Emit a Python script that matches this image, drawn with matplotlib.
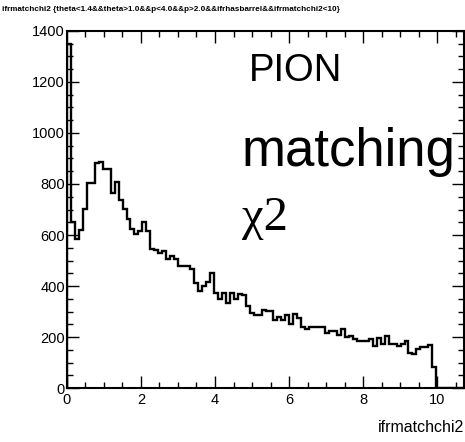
import numpy as np
import matplotlib
matplotlib.use("Agg")
import matplotlib.pyplot as plt
from matplotlib.ticker import MultipleLocator

# histogram contents (100 bins, 0 .. x_max)
counts = [1350, 652, 583, 620, 701, 805, 805, 881, 886, 857,
          857, 763, 806, 737, 701, 664, 622, 604, 617, 652,
          617, 544, 540, 528, 539, 505, 518, 505, 478, 478,
          478, 465, 413, 382, 400, 417, 450, 374, 348, 374,
          335, 372, 348, 367, 365, 322, 295, 286, 286, 308,
          303, 303, 267, 277, 267, 286, 251, 290, 273, 238,
          230, 240, 240, 240, 240, 214, 225, 225, 208, 230,
          201, 205, 191, 186, 183, 183, 191, 165, 195, 173,
          204, 173, 173, 165, 173, 186, 138, 133, 152, 160,
          160, 169, 84, 0, 0, 0, 0, 0, 0, 0]
x_min = 0.0
x_max = 10.73
n_bins = len(counts)

title = "ifrmatchchi2 {theta<1.4&&theta>1.0&&p<4.0&&p>2.0&&ifrhasbarrel&&ifrmatchchi2<10}"
x_title = "ifrmatchchi2"

plt.rcParams['font.family'] = ["Liberation Sans", "DejaVu Sans"]

fig = plt.figure(figsize=(4.65, 4.42), dpi=100)
ax = fig.add_axes([0.144, 0.122, 0.854, 0.808])

edges = np.linspace(x_min, x_max, n_bins + 1)
ax.stairs(counts, edges, baseline=0, color="black", linewidth=1.7)

ax.set_xlim(x_min, x_max)
ax.set_ylim(0, 1400)

# ROOT style ticks: inward on all four sides
ax.xaxis.set_major_locator(MultipleLocator(2))
ax.xaxis.set_minor_locator(MultipleLocator(0.5))
ax.yaxis.set_major_locator(MultipleLocator(200))
ax.yaxis.set_minor_locator(MultipleLocator(50))
ax.tick_params(which="both", direction="in", top=True, right=True, width=1.0,
               labelsize=10.5)
ax.tick_params(which="major", length=8.5)
ax.tick_params(which="minor", length=4.2)
ax.tick_params(axis="x", pad=3.5)
ax.tick_params(axis="y", pad=1.5)
for s in ax.spines.values():
    s.set_linewidth(1.5)

fig.text(0.004, 0.979, title, fontsize=5.9, fontweight="bold", ha="left", va="center")
fig.text(0.998, 0.033, x_title, fontsize=11.5, ha="right", va="center")

# labels inside the pad
ax.text(0.459, 0.887, "PION", transform=ax.transAxes, fontsize=27.5,
        ha="left", va="center")
ax.text(0.44, 0.66, "matching", transform=ax.transAxes, fontsize=38,
        ha="left", va="center")
ax.text(0.44, 0.475, "χ2", transform=ax.transAxes, fontsize=35,
        family=["Liberation Serif", "DejaVu Serif"], ha="left", va="center")

fig.savefig("out.png", dpi=100)
